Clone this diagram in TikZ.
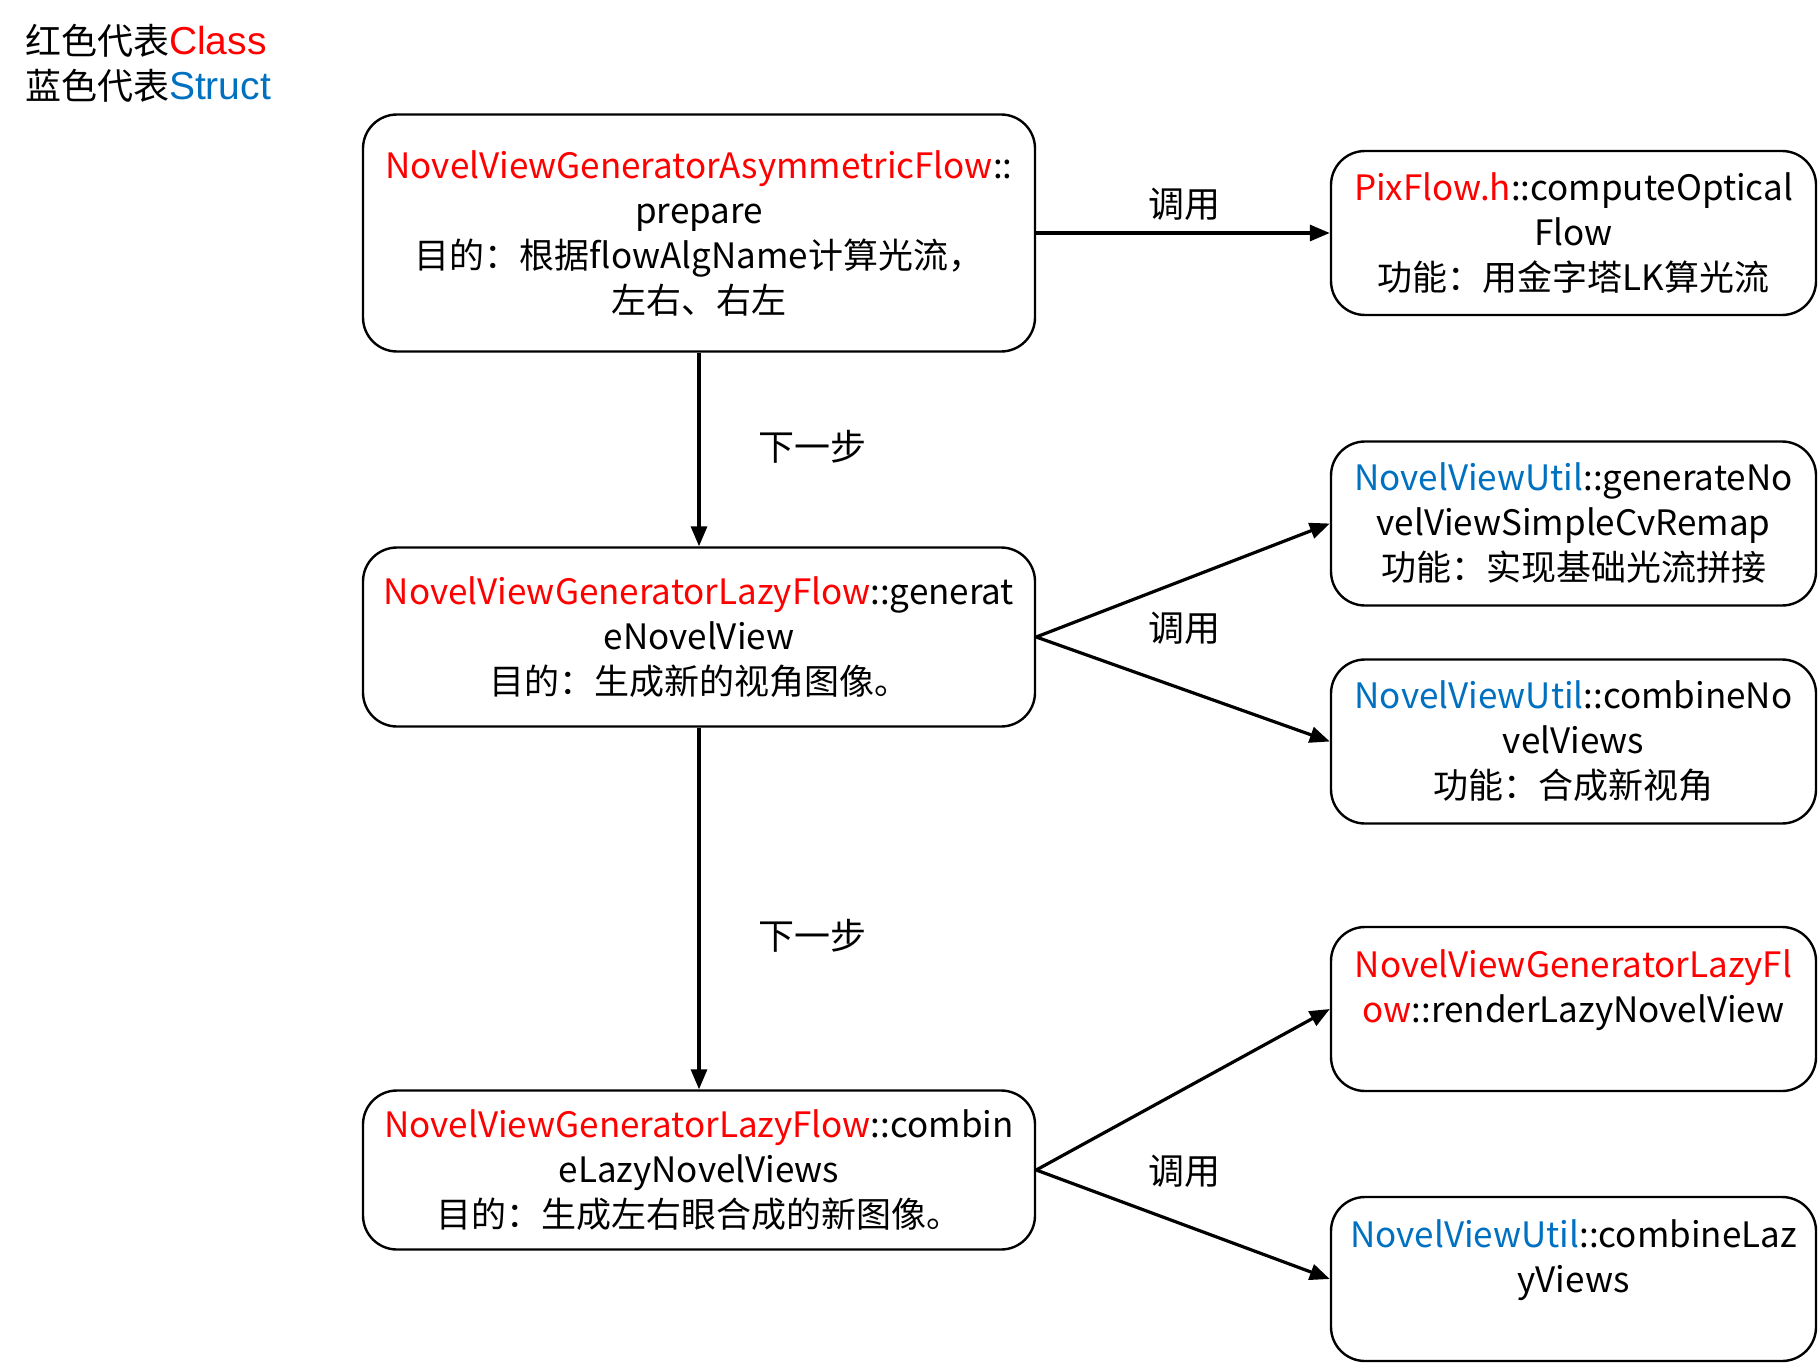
\documentclass[tikz,border=0pt]{standalone}
\usepackage{fontspec}
\setmainfont{Noto Sans CJK SC}
\newfontfamily\legendlatin{Liberation Sans}
\usepackage{xcolor}
\usepackage{tikz}
\usetikzlibrary{arrows.meta}

\definecolor{clsred}{RGB}{255,0,0}
\definecolor{structblue}{RGB}{0,112,192}
\newcommand{\clsname}[1]{\textcolor{clsred}{#1}}
\newcommand{\structname}[1]{\textcolor{structblue}{#1}}

\begin{document}
\begin{tikzpicture}[
    x=0.5pt, y=-0.5pt,
    box/.style={rectangle, rounded corners=17pt, draw, line width=1.2pt,
      align=center, inner sep=2pt, font=\fontsize{17.5}{22.5}\selectfont},
    func/.style={box, minimum width=242.5pt, minimum height=82pt},
    arrow/.style={line width=1.6pt, -{Triangle[length=10pt, width=8pt]}},
    lbl/.style={font=\fontsize{18}{22.5}\selectfont}
]
\useasboundingbox (0,0) rectangle (1818,1364);

% legend
\node[lbl, anchor=west, align=left] (legend) at (18,63)
  {红色代表{\legendlatin\fontsize{19.5}{22.5}\selectfont\clsname{Class}}\\
   蓝色代表{\legendlatin\fontsize{19.5}{22.5}\selectfont\structname{Struct}}};

% main steps
\node[box, minimum width=336pt, minimum height=118.5pt] (prepare) at (699,233)
  {\clsname{NovelViewGeneratorAsymmetricFlow}::\\ prepare\\
   目的：根据flowAlgName计算光流，\\ 左右、右左};
\node[box, minimum width=336pt, minimum height=89.5pt] (generate) at (699,637)
  {\clsname{NovelViewGeneratorLazyFlow}::generat\\ eNovelView\\
   目的：生成新的视角图像。};
\node[box, minimum width=336pt, minimum height=79.5pt] (combine) at (699,1170)
  {\clsname{NovelViewGeneratorLazyFlow}::combin\\ eLazyNovelViews\\
   目的：生成左右眼合成的新图像。};

% called functions
\node[func] (optflow) at (1573.5,233)
  {\clsname{PixFlow.h}::computeOptical\\ Flow\\ 功能：用金字塔LK算光流};
\node[func] (remap) at (1573.5,523.5)
  {\structname{NovelViewUtil}::generateNo\\ velViewSimpleCvRemap\\ 功能：实现基础光流拼接};
\node[func] (combviews) at (1573.5,741.5)
  {\structname{NovelViewUtil}::combineNo\\ velViews\\ 功能：合成新视角};
\node[func] (render) at (1573.5,1009)
  {\clsname{NovelViewGeneratorLazyFl}\\ \clsname{ow}::renderLazyNovelView\\ \mbox{}};
\node[func] (lazyviews) at (1573.5,1279)
  {\structname{NovelViewUtil}::combineLaz\\ yViews\\ \mbox{}};

% labels
\node[lbl] (call1) at (1184,204) {调用};
\node[lbl] (call2) at (1184,628) {调用};
\node[lbl] (call3) at (1184,1171) {调用};
\node[lbl] (next1) at (812,447) {下一步};
\node[lbl] (next2) at (812,936) {下一步};

\draw[arrow] (prepare) -- (generate);
\draw[arrow] (generate) -- (combine);
\draw[arrow] (prepare.east) -- (prepare.east -| optflow.west);
\draw[arrow] (generate.east) -- (remap.west);
\draw[arrow] (generate.east) -- (combviews.west);
\draw[arrow] (combine.east) -- (render.west);
\draw[arrow] (combine.east) -- (lazyviews.west);
\end{tikzpicture}
\end{document}
